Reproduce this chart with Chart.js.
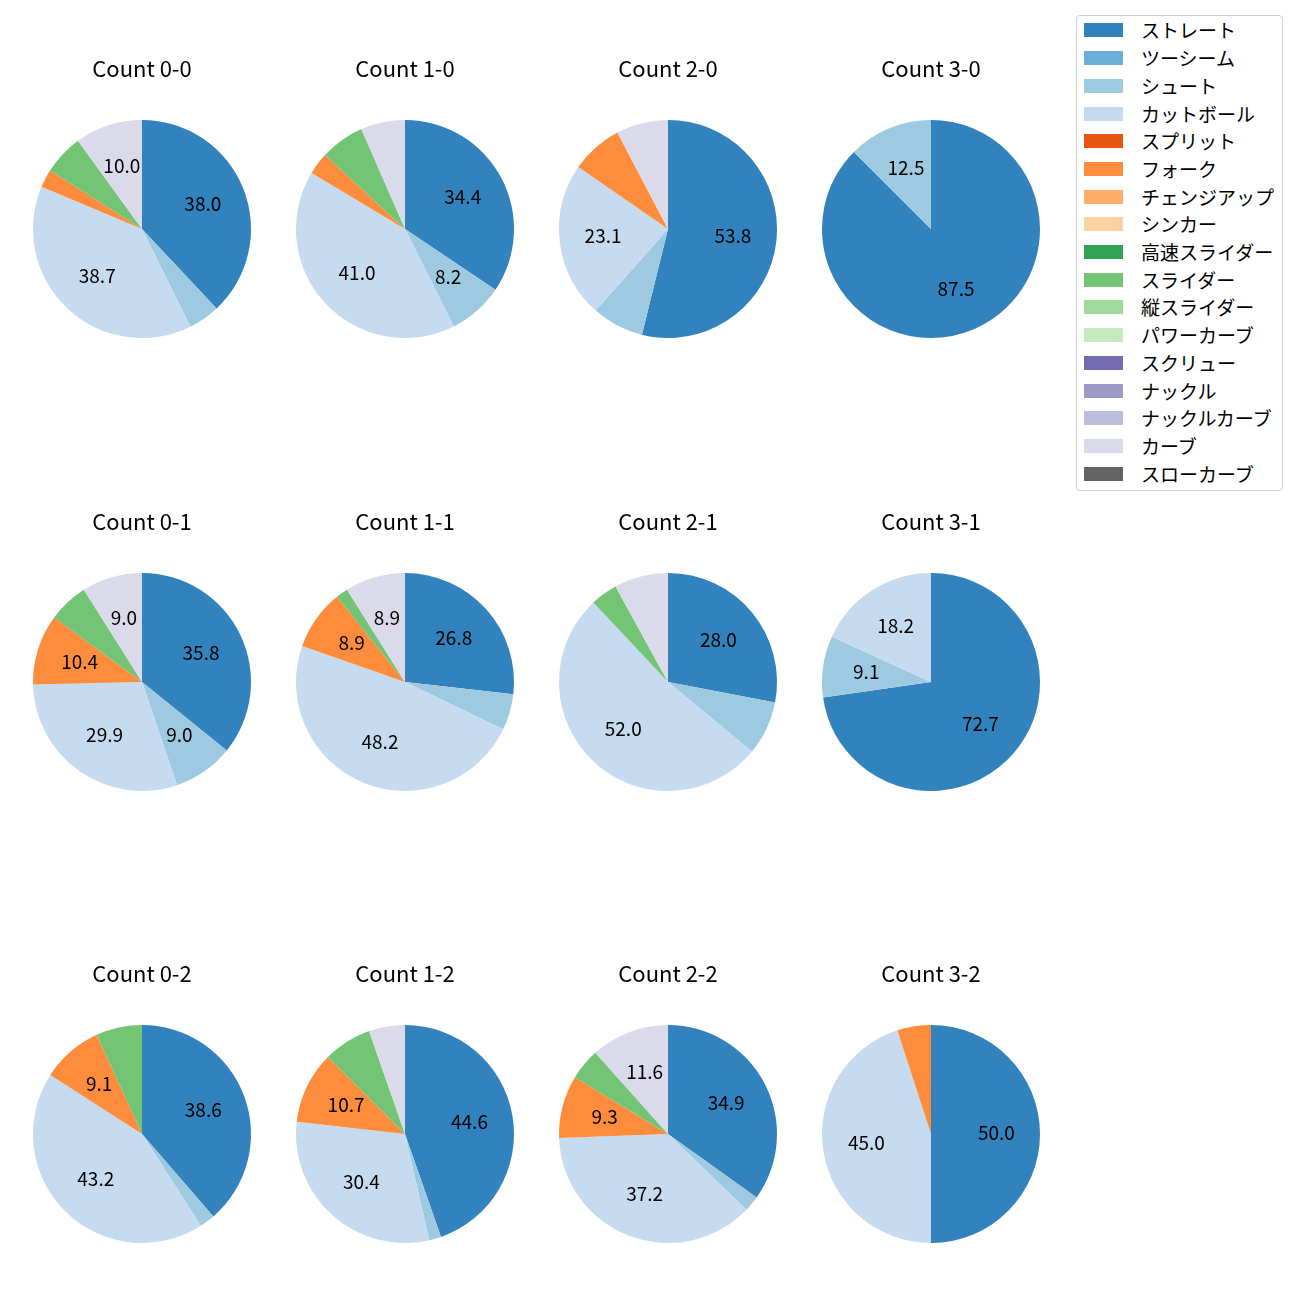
<!DOCTYPE html>
<html>
<head>
<meta charset="utf-8">
<script src="https://cdn.jsdelivr.net/npm/chart.js@4"></script>
<style>
  body { margin: 0; background: #fff; font-family: "Noto Sans CJK JP", sans-serif; }
  #wrap { position: relative; width: 1300px; height: 1300px; }
  canvas { position: absolute; }
  #legend { position: absolute; left: 1076px; top: 15px; width: 207px; height: 476px;
    border: 1px solid #d0d0d0; border-radius: 4px; box-sizing: border-box; background: #fff; }
  .item { position: absolute; left: 0; height: 20px; }
  .patch { position: absolute; left: 7px; width: 39px; height: 14px; }
  .lbl { position: absolute; left: 64px; font-size: 19px; line-height: 20px; white-space: nowrap; color: #000; }
</style>
</head>
<body>
<div id="wrap"><div id="legend"></div></div>
<script>
// legend entries (all pitch types) and their colours
const pitchTypes = ["ストレート", "ツーシーム", "シュート", "カットボール", "スプリット", "フォーク",
  "チェンジアップ", "シンカー", "高速スライダー", "スライダー", "縦スライダー", "パワーカーブ",
  "スクリュー", "ナックル", "ナックルカーブ", "カーブ", "スローカーブ"];
const pitchColors = ["#3182bd", "#6baed6", "#9ecae1", "#c6dbef", "#e6550d", "#fd8d3c",
  "#fdae6b", "#fdd0a2", "#31a354", "#74c476", "#a1d99b", "#c7e9c0",
  "#756bb1", "#9e9ac8", "#bcbddc", "#dadaeb", "#636363"];

// pitch types that actually appear in the pies
const usedTypes = ["ストレート", "シュート", "カットボール", "フォーク", "スライダー", "カーブ"];

const countLabels = ["0-0", "1-0", "2-0", "3-0", "0-1", "1-1", "2-1", "3-1", "0-2", "1-2", "2-2", "3-2"];

// pitch counts per ball-strike count, in usedTypes order
const count00 = [57, 7, 58, 4, 9, 15];
const count10 = [21, 5, 25, 2, 4, 4];
const count20 = [7, 1, 3, 1, 0, 1];
const count30 = [7, 1, 0, 0, 0, 0];
const count01 = [24, 6, 20, 7, 4, 6];
const count11 = [15, 3, 27, 5, 1, 5];
const count21 = [7, 2, 13, 0, 1, 2];
const count31 = [8, 1, 2, 0, 0, 0];
const count02 = [17, 1, 19, 4, 3, 0];
const count12 = [25, 1, 17, 6, 4, 3];
const count22 = [15, 1, 16, 4, 2, 5];
const count32 = [10, 0, 9, 1, 0, 0];
const countValues = [count00, count10, count20, count30, count01, count11, count21, count31,
  count02, count12, count22, count32];

const colX = [141.5, 404.5, 667.5, 930.5];
const rowY = [229, 681.5, 1134];

// percentage labels at 0.6 radius, hidden for small slices
const pctLabels = {
  id: "pctLabels",
  afterDatasetsDraw(chart) {
    const ctx = chart.ctx;
    const data = chart.data.datasets[0].data;
    const total = data.reduce((a, b) => a + b, 0);
    ctx.save();
    ctx.font = "19px 'Noto Sans CJK JP'";
    ctx.fillStyle = "#000";
    ctx.textAlign = "center";
    ctx.textBaseline = "middle";
    chart.getDatasetMeta(0).data.forEach((arc, i) => {
      const pct = data[i] / total * 100;
      if (pct <= 8.05) return;
      const p = arc.getProps(["x", "y", "startAngle", "endAngle", "outerRadius"], true);
      const mid = (p.startAngle + p.endAngle) / 2;
      const r = p.outerRadius * 0.6;
      ctx.fillText(pct.toFixed(1), p.x + Math.cos(mid) * r, p.y + Math.sin(mid) * r - 1);
    });
    ctx.restore();
  }
};

const wrap = document.getElementById("wrap");
const typeColor = t => pitchColors[pitchTypes.indexOf(t)];

countLabels.forEach((lab, k) => {
  const cx = colX[k % 4], cy = rowY[Math.floor(k / 4)];
  const cv = document.createElement("canvas");
  cv.width = 260; cv.height = 283;
  cv.style.left = (cx - 130) + "px";
  cv.style.top = (cy - 174) + "px";
  wrap.appendChild(cv);
  new Chart(cv.getContext("2d"), {
    type: "pie",
    data: {
      labels: usedTypes,
      datasets: [{
        data: countValues[k],
        backgroundColor: usedTypes.map(typeColor),
        borderWidth: 0
      }]
    },
    options: {
      responsive: false,
      animation: false,
      layout: { padding: { left: 21, right: 21, top: 0, bottom: 0 } },
      plugins: {
        legend: { display: false },
        tooltip: { enabled: false },
        title: {
          display: true,
          text: "Count " + lab,
          color: "#000",
          font: { family: "Noto Sans CJK JP", size: 22, weight: "normal", lineHeight: 1.2 },
          padding: { top: 0, bottom: 38.6 }
        }
      }
    },
    plugins: [pctLabels]
  });
});

// legend
const legend = document.getElementById("legend");
pitchTypes.forEach((t, i) => {
  const it = document.createElement("div");
  it.className = "item";
  it.style.top = (14.4 + 27.7 * i - 10) + "px";
  it.innerHTML = '<div class="patch" style="top:3px;background:' + pitchColors[i] + '"></div>' +
    '<div class="lbl">' + t + '</div>';
  legend.appendChild(it);
});
</script>
</body>
</html>
